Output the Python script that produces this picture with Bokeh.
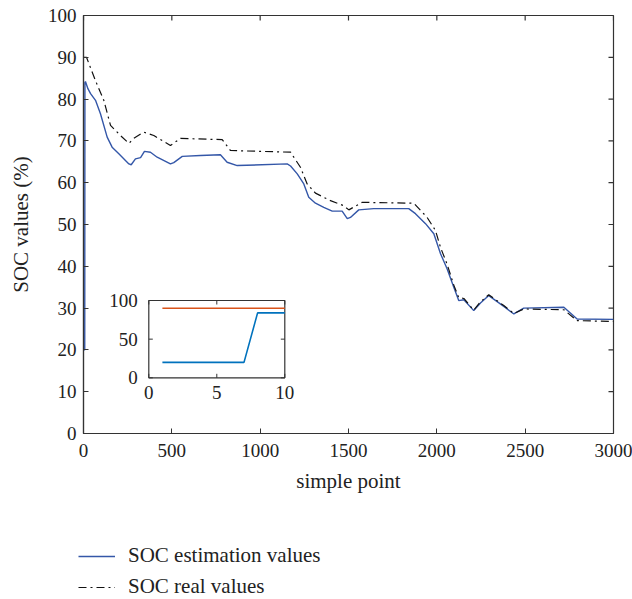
from bokeh.plotting import figure
from bokeh.models import Range1d, FixedTicker, Legend, LegendItem
from bokeh.layouts import column
from bokeh.embed import file_html
from bokeh.resources import INLINE
from bokeh.core.properties import value

# ---------------- data ----------------
x_est = [1, 7, 8, 11, 25, 40, 68, 96, 134, 162, 200, 257, 270, 294, 323, 345, 379, 417, 492, 511,
         559, 662, 775, 813, 870, 1153, 1172, 1210, 1247, 1275, 1313, 1360, 1408, 1464, 1493, 1511,
         1558, 1643, 1841, 1879, 1936, 1983, 2021, 2058, 2096, 2124, 2153, 2209, 2247, 2294,
         2379, 2436, 2492, 2719, 2794, 3000]
y_est = [20, 20, 84, 84.2, 82.5, 81.3, 79.7, 76.5, 70.9, 68.5, 66.9, 64.5, 64.3, 65.7, 66.0, 67.5,
         67.3, 66.1, 64.5, 64.8, 66.3, 66.5, 66.7, 64.9, 64.1, 64.5, 64.0, 62.1, 59.7, 56.5, 55.1,
         54.1, 53.2, 53.2, 51.4, 51.7, 53.5, 53.8, 53.8, 52.6, 50.2, 47.8, 43.0, 39.4, 35.0, 31.8,
         32.0, 29.4, 31.2, 33.0, 30.4, 28.6, 30.0, 30.2, 27.4, 27.3]

x_real = [1, 10, 17, 68, 115, 153, 209, 257, 285, 341, 398, 492, 549, 785, 832, 1172, 1228, 1266,
          1313, 1398, 1473, 1502, 1577, 1870, 1945, 1992, 2021, 2058, 2096, 2124, 2153, 2209, 2247,
          2294, 2379, 2436, 2492, 2719, 2794, 3000]
y_real = [90, 90, 90, 84.4, 79.7, 73.7, 71.3, 69.4, 70.6, 72.1, 71.3, 68.9, 70.6, 70.3, 67.7, 67.3,
          63.7, 59.7, 57.5, 55.7, 54.5, 53.5, 55.3, 55.1, 51.7, 48.6, 44.5, 40.5, 35.5, 32.5, 32.3,
          29.5, 31.5, 33.2, 30.6, 28.7, 29.8, 29.6, 27.0, 26.8]

x_lim = [0, 3000]
y_lim = [0, 100]
x_ticks = [0, 500, 1000, 1500, 2000, 2500, 3000]
y_ticks = [0, 10, 20, 30, 40, 50, 60, 70, 80, 90, 100]

# inset: first ten samples
inset_k = [1, 2, 3, 4, 5, 6, 7, 8, 9, 10]
inset_est = [20, 20, 20, 20, 20, 20, 20, 84, 84, 84]
inset_real = [90, 90, 90, 90, 90, 90, 90, 90, 90, 90]
inset_xlim = [0, 10]
inset_ylim = [0, 100]
inset_xticks = [0, 5, 10]
inset_yticks = [0, 50, 100]

labels = ["SOC estimation values", "SOC real values"]

# ---------------- main figure ----------------
FONT = "Liberation Serif"
TXT = "#222222"
AX = "#333333"
C_EST = "#3457A8"
C_REAL = "#111111"
DASH = "8 4 2 4"

W = 632
BL, BR, BT = 83, 19, 15
FW, FH = W - BL - BR, 418
H1 = 502
H2 = 599 - H1

p = figure(width=W, height=H1, output_backend="svg", toolbar_location=None,
           x_range=Range1d(*x_lim), y_range=Range1d(*y_lim),
           min_border_left=BL, min_border_right=BR, min_border_top=BT,
           min_border_bottom=H1 - BT - FH,
           x_axis_label="simple point", y_axis_label="SOC values (%)")
p.grid.visible = False
p.outline_line_color = AX
p.outline_line_width = 1.2

for ax in (p.xaxis[0], p.yaxis[0]):
    ax.axis_line_color = AX
    ax.axis_line_width = 1.2
    ax.major_tick_line_color = AX
    ax.major_tick_in = 5
    ax.major_tick_out = 0
    ax.minor_tick_line_color = None
    ax.major_label_text_font = FONT
    ax.major_label_text_font_size = "19px"
    ax.major_label_text_color = TXT
    ax.axis_label_text_font = FONT
    ax.axis_label_text_font_size = "21px"
    ax.axis_label_text_color = TXT
    ax.axis_label_text_font_style = "normal"
p.xaxis[0].ticker = FixedTicker(ticks=x_ticks)
p.yaxis[0].ticker = FixedTicker(ticks=y_ticks)
p.xaxis[0].major_label_standoff = 10
p.xaxis[0].axis_label_standoff = 9
p.yaxis[0].major_label_standoff = 7
p.yaxis[0].axis_label_standoff = 12

# mirrored inward ticks on top and right edges (5 px long)
ty = 5.0 * (y_lim[1] - y_lim[0]) / FH
tx = 5.0 * (x_lim[1] - x_lim[0]) / FW
p.segment(x0=x_ticks, x1=x_ticks, y0=[y_lim[1]] * len(x_ticks), y1=[y_lim[1] - ty] * len(x_ticks),
          line_color=AX, line_width=1.2)
p.segment(x0=[x_lim[1]] * len(y_ticks), x1=[x_lim[1] - tx] * len(y_ticks), y0=y_ticks, y1=y_ticks,
          line_color=AX, line_width=1.2)

# main lines
p.line(x_est, y_est, line_color=C_EST, line_width=1.4)
p.line(x_real, y_real, line_color=C_REAL, line_width=1.2, line_dash=DASH)

# ---------------- inset via extra ranges ----------------
# inset box sits at page x 148.3..284.3, y 300..377.3 ; frame is x 83..613, y 15..433
fx0 = (148.3 - BL) / FW
fx1 = (284.3 - BL) / FW
fy0 = (BT + FH - 377.3) / FH
fy1 = (BT + FH - 300.0) / FH
spanx = (inset_xlim[1] - inset_xlim[0]) / (fx1 - fx0)
spany = (inset_ylim[1] - inset_ylim[0]) / (fy1 - fy0)
ix0 = inset_xlim[0] - fx0 * spanx
iy0 = inset_ylim[0] - fy0 * spany
p.extra_x_ranges = {"ix": Range1d(ix0, ix0 + spanx)}
p.extra_y_ranges = {"iy": Range1d(iy0, iy0 + spany)}
kw = dict(x_range_name="ix", y_range_name="iy")

p.quad(left=[inset_xlim[0]], right=[inset_xlim[1]], bottom=[inset_ylim[0]], top=[inset_ylim[1]],
       fill_color="white", line_color=AX, line_width=1.2, **kw)
p.line(inset_k, inset_real, line_color="#D95319", line_width=1.6, **kw)
p.line(inset_k, inset_est, line_color="#0072BD", line_width=1.6, **kw)

tl_y = 4.0 * spany / FH
tl_x = 4.0 * spanx / FW
nx, ny = len(inset_xticks), len(inset_yticks)
p.segment(x0=inset_xticks, x1=inset_xticks, y0=[inset_ylim[0]] * nx,
          y1=[inset_ylim[0] + tl_y] * nx, line_color=AX, line_width=1, **kw)
p.segment(x0=inset_xticks, x1=inset_xticks, y0=[inset_ylim[1]] * nx,
          y1=[inset_ylim[1] - tl_y] * nx, line_color=AX, line_width=1, **kw)
p.segment(x0=[inset_xlim[0]] * ny, x1=[inset_xlim[0] + tl_x] * ny, y0=inset_yticks, y1=inset_yticks,
          line_color=AX, line_width=1, **kw)
p.segment(x0=[inset_xlim[1]] * ny, x1=[inset_xlim[1] - tl_x] * ny, y0=inset_yticks, y1=inset_yticks,
          line_color=AX, line_width=1, **kw)

p.text(x=inset_xticks, y=[inset_ylim[0]] * nx, text=[str(t) for t in inset_xticks],
       text_font=value(FONT), text_font_size="19px", text_color=TXT,
       text_align="center", text_baseline="top", y_offset=8, **kw)
p.text(x=[inset_xlim[0]] * ny, y=inset_yticks, text=[str(t) for t in inset_yticks],
       text_font=value(FONT), text_font_size="19px", text_color=TXT,
       text_align="right", text_baseline="middle", x_offset=-11, **kw)

# ---------------- legend strip below the chart ----------------
q = figure(width=W, height=H2, output_backend="svg", toolbar_location=None,
           x_range=Range1d(-2, -1), y_range=Range1d(-2, -1),
           x_axis_type=None, y_axis_type=None,
           min_border_left=0, min_border_right=0, min_border_top=0, min_border_bottom=0)
q.grid.visible = False
q.outline_line_color = None
q.frame_align = False
p.frame_align = False
l_est = q.line(x_est, y_est, line_color=C_EST, line_width=1.4)
l_real = q.line(x_real, y_real, line_color=C_REAL, line_width=1.2, line_dash=DASH)

legend = Legend(items=[LegendItem(label=labels[0], renderers=[l_est]),
                       LegendItem(label=labels[1], renderers=[l_real])],
                location=(78, 0), orientation="vertical",
                label_text_font=FONT, label_text_font_size="21px", label_text_color=TXT,
                glyph_width=37, glyph_height=20, label_height=20, spacing=6,
                label_standoff=13, padding=0, margin=0,
                border_line_alpha=0, background_fill_alpha=0)
q.add_layout(legend, "center")

layout = column(p, q, spacing=0)
open("out.html", "w").write(file_html(layout, INLINE))
